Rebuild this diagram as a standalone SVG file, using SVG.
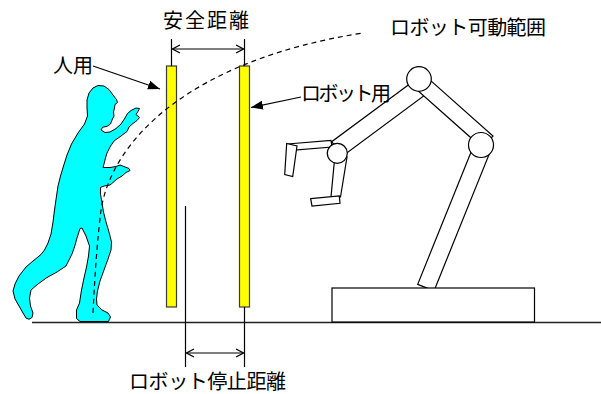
<svg xmlns="http://www.w3.org/2000/svg" width="601" height="394" viewBox="0 0 601 394">
  <style>
    .lbl { font-family: "Noto Sans CJK JP", "Noto Sans CJK SC", sans-serif; font-size: 20px; fill: #000; }
    .ln { stroke: #000; stroke-width: 1.2; fill: none; }
    .part { fill: #fff; stroke: #000; stroke-width: 1.2; stroke-linejoin: miter; }
    .bar { fill: #ffff00; stroke: #3a3a3a; stroke-width: 1.2; }
  </style>
  <defs>
    <marker id="open" viewBox="0 0 10 10" refX="9.5" refY="5" markerWidth="10" markerHeight="10" markerUnits="userSpaceOnUse" orient="auto-start-reverse">
      <path d="M2,1 L9.5,5 L2,9" fill="none" stroke="#000" stroke-width="1.2"/>
    </marker>
    <marker id="solid" viewBox="0 0 12 10" refX="12" refY="5" markerWidth="12" markerHeight="10" markerUnits="userSpaceOnUse" orient="auto">
      <path d="M0,0.5 L12,5 L0,9.5 Z" fill="#000"/>
    </marker>
  </defs>

  <rect width="601" height="394" fill="#fff"/>

  <!-- floor -->
  <line id="floor" x1="32" y1="322.5" x2="601" y2="322.5" stroke="#222" stroke-width="1.5"/>

  <!-- person -->
  <g id="person">
    <path fill="#00ffff" stroke="#000" stroke-width="1" stroke-linejoin="round"
      d="M98,85.5 L104,86 L109,89.5 L113,95 L116.5,99.5 L117.5,102.5 L115,104.5 L114.5,108 L113.5,112 L114,116 L112,120 L110.5,124 L107,126.3 L102.5,127.3 L101,130 L105,132.5 L110,132 L116,128.5 L121,124 L125,118 L127.5,113.5 L131,110.5 L136,108 L139.5,108.5 L138,111.5 L136,114.5 L139.5,117.5 L137,120.5 L133,123.5 L129,127 L127,131.5 L121,136 L114,141 L110,147 L107,153 L105.5,158 L104,164 L103,167.5 L110,167.5 L116,166.5 L120,165 L124,166.5 L129,168.5 L130,170.5 L126,172.5 L122,176 L117,179 L113,182.5 L110,185 L104,186 L100.5,187.5 L100.5,194 L102,203 L103.5,212 L106,222 L109,232 L111.5,242 L111,250 L108,259 L104,270 L100,281 L97.5,291 L96.5,299 L97,305 L102,310 L108,313 L110.5,317 L108.5,321.5 L80,321.5 L76.5,318.5 L76.5,310 L79.5,303 L81.5,290 L84,278 L86.5,267 L88.5,256 L89.5,246 L86,236 L82,228 L80,228.5 L77,238 L74.5,247 L72,254 L66,266 L57,272 L47,277.5 L38,284 L31,290 L29.5,298 L30.5,306 L33,313 L32,317.5 L29,319.3 L26,318 L23,313 L19,306 L15,299 L13,291 L15,284 L19,276 L26,267 L33,261 L41,254.5 L44.5,250 L48,243 L51,234 L53,222 L54.5,210 L56.5,196 L58,186 L60.5,176 L63.5,166 L67,155 L71.5,144 L78,133 L84.5,124 L87.5,116 L87,108 L87,100 L89,93 L93,88 Z"/>
  </g>

  <!-- light curtain bars -->
  <g id="bar-person">
    <rect class="bar" x="166.5" y="66" width="10" height="241"/>
  </g>
  <g id="bar-robot">
    <rect class="bar" x="239.5" y="66" width="10" height="241"/>
  </g>

  <!-- robot arm -->
  <g id="robot">
    <polygon class="part" points="334.5,160 347,157 340.5,197 331,197"/>
    <polygon class="part" points="310.7,198.7 339.3,196 340,203.3 312,206"/>
    <polygon class="part" points="287.3,144 331,140.3 332,147 288.5,150.7"/>
    <polygon class="part" points="286.7,143.5 297,146 292.7,176.5 284.7,174.5"/>
    <polygon class="part" points="414.7,80.2 331.7,141.7 342.4,156.2 425.4,94.7"/>
    <polygon class="part" points="427.3,77.6 493,136 482.2,147.8 416.5,89.4"/>
    <polygon class="part" points="473.9,145 490.2,151.6 434,290.9 417.7,284.3"/>
    <rect class="part" x="332" y="288" width="202.5" height="34"/>
    <circle class="part" cx="419" cy="79" r="12.3"/>
    <circle class="part" cx="481" cy="145" r="12.5"/>
    <circle class="part" cx="337.3" cy="153.3" r="10"/>
  </g>

  <!-- robot reach boundary -->
  <path id="reach" class="ln" stroke-dasharray="5 4" d="M93,313 Q96,250 101,210 C112,140 190,60 363,33"/>

  <!-- dimension and leader lines -->
  <g id="connectors">
    <line class="ln" x1="171.5" y1="39" x2="171.5" y2="66"/>
    <line class="ln" x1="244.5" y1="39" x2="244.5" y2="66"/>
    <line class="ln" x1="172.5" y1="49" x2="243.5" y2="49" marker-start="url(#open)" marker-end="url(#open)"/>
    <line class="ln" x1="185.5" y1="206" x2="185.5" y2="367"/>
    <line class="ln" x1="244.5" y1="307" x2="244.5" y2="367"/>
    <line class="ln" x1="186.5" y1="353" x2="243.5" y2="353" marker-start="url(#open)" marker-end="url(#open)"/>
    <line class="ln" x1="93" y1="66" x2="160" y2="89" marker-end="url(#solid)"/>
    <line class="ln" x1="301" y1="97" x2="251" y2="107.5" marker-end="url(#solid)"/>
  </g>

  <!-- labels -->
  <g id="labels">
    <text class="lbl" x="163" y="28" textLength="86" lengthAdjust="spacing">安全距離</text>
    <text class="lbl" x="390" y="34.7" textLength="156" lengthAdjust="spacing">ロボット可動範囲</text>
    <text class="lbl" x="53" y="72.7" textLength="40" lengthAdjust="spacing">人用</text>
    <text class="lbl" x="301" y="100.5" textLength="90" lengthAdjust="spacing">ロボット用</text>
    <text class="lbl" x="129" y="388.7" textLength="157" lengthAdjust="spacing">ロボット停止距離</text>
  </g>
</svg>
